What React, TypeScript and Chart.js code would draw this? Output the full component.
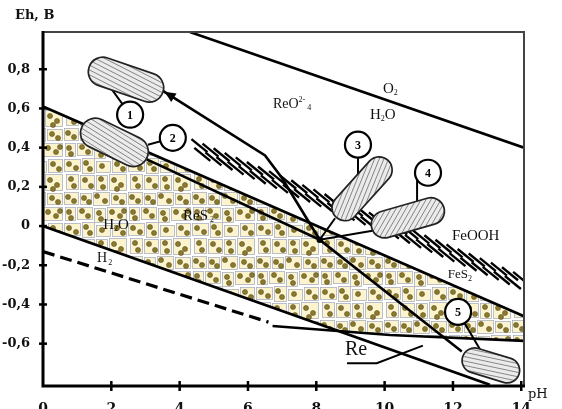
import React, { useEffect, useRef } from "react";
import { Chart, registerables } from "chart.js";

Chart.register(...registerables);

// ---- axes ----
const X_RANGE = [0, 14.08];
const Y_RANGE = [-0.816, 0.99];
const X_TICKS = [0, 2, 4, 6, 8, 10, 12, 14];
const X_TICK_LABELS = ["0", "2", "4", "6", "8", "10", "12", "14"];
const Y_TICKS = [0.8, 0.6, 0.4, 0.2, 0, -0.2, -0.4, -0.6];
const Y_TICK_LABELS = ["0,8", "0,6", "0,4", "0,2", "0", "-0,2", "-0,4", "-0,6"];

// ---- boundary lines (pH, Eh in V) ----
const O2_PH = [4.3, 14.08];
const O2_EH = [0.99, 0.4];
const FEOOH_PH = [0, 14.08];
const FEOOH_EH = [0.61, -0.46];
const RES2_TOP_PH = [3.04, 8.1];
const RES2_TOP_EH = [0.34, -0.07];
const H2O_PH = [0, 13.08];
const H2O_EH = [0, -0.81];
const H2_DASH_PH = [0, 6.6];
const H2_DASH_EH = [-0.13, -0.49];
const RE_LOW_PH = [6.72, 10.16, 14.08];
const RE_LOW_EH = [-0.51, -0.556, -0.586];
const REO4_PH = [3.51, 6.5, 6.99, 8.1, 12.26];
const REO4_EH = [0.69, 0.36, 0.246, -0.07, -0.64];
const RE_X_PH = [8.9, 9.77, 11.12];
const RE_X_EH = [-0.7, -0.7, -0.61];
const LINK3_PH = [8.1, 8.55];
const LINK3_EH = [-0.07, 0.04];
const LINK4_PH = [8.1, 9.77];
const LINK4_EH = [-0.07, -0.02];

// ---- dotted ReS2 / FeS2 field ----
const FIELD_PH = [0, 14.08, 14.08, 10.16, 8.69, 0];
const FIELD_EH = [0.61, -0.46, -0.586, -0.556, -0.538, 0];

// ---- FeOOH hatched band ----
const HATCH_PH = [4.54, 14.05];
const HATCH_EH = [0.394, -0.29];

// ---- numbered sample fields ----
const PILL_NUM = ["1", "2", "3", "4", "5"];
const PILL_PH = [2.43, 2.09, 9.34, 10.68, 13.11];
const PILL_EH = [0.747, 0.427, 0.19, 0.042, -0.711];
const CIRCLE_PH = [2.55, 3.8, 9.22, 11.27, 12.15];
const CIRCLE_EH = [0.568, 0.45, 0.415, 0.272, -0.438];
const LEADER_FROM_PH = [2.55, 3.8, 9.22, 10.95, 12.15];
const LEADER_FROM_EH = [0.568, 0.45, 0.415, 0.236, -0.438];
const LEADER_TO_PH = [2.02, 3.07, 9.22, 10.95, 12.82];
const LEADER_TO_EH = [0.696, 0.415, 0.26, 0.11, -0.637];

// pill shapes (px): length, thickness, angle, hatch angle relative
const PILL_STYLE = [
  { len: 78, thick: 29, ang: 19, hatch: 8 },
  { len: 72, thick: 30, ang: 26, hatch: 6 },
  { len: 77, thick: 26, ang: -48, hatch: -20 },
  { len: 75, thick: 27, ang: -16, hatch: -44 },
  { len: 59, thick: 25, ang: 17, hatch: -5 },
];

// ---- region labels ----
const TEXTS: { ph: number; eh: number; parts: [string, number, number][] }[] = [
  { ph: 6.73, eh: 0.62, parts: [["ReO", 14, 0], ["2-", 8, -5], [" ", 8, 0], ["4", 8, 3]] },
  { ph: 9.95, eh: 0.7, parts: [["O", 15, 0], ["2", 8, 4]] },
  { ph: 9.57, eh: 0.568, parts: [["H", 15, 0], ["2", 8, 4], ["O", 15, 0]] },
  { ph: 11.97, eh: -0.05, parts: [["FeOOH", 15, 0]] },
  { ph: 11.85, eh: -0.249, parts: [["FeS", 13, 0], ["2", 8, 4]] },
  { ph: 1.76, eh: 0.006, parts: [["H", 15, 0], ["2", 8, 4], ["O", 15, 0]] },
  { ph: 4.1, eh: 0.052, parts: [["ReS", 15, 0], [" ", 8, 0], ["2", 8, 4]] },
  { ph: 1.58, eh: -0.167, parts: [["H", 14, 0], [" ", 5, 0], ["2", 8, 4]] },
  { ph: 8.84, eh: -0.632, parts: [["Re", 20, 0], ["'", 10, -6]] },
];

function makeDotPattern(): CanvasPattern | string {
  const S = 64;
  const c = document.createElement("canvas");
  c.width = S;
  c.height = S;
  const g = c.getContext("2d");
  if (!g) return "#f5ecc8";
  g.fillStyle = "#ffffff";
  g.fillRect(0, 0, S, S);
  const cells = [
    [0, 0, 15, 13], [16, 1, 12, 12], [29, 0, 17, 14], [47, 1, 16, 12],
    [1, 15, 11, 14], [13, 15, 16, 13], [30, 16, 12, 15], [43, 15, 20, 14],
    [0, 31, 17, 13], [18, 30, 13, 16], [32, 33, 15, 12], [48, 31, 15, 14],
    [2, 46, 13, 16], [16, 47, 15, 15], [32, 47, 12, 16], [45, 46, 18, 17],
  ];
  g.fillStyle = "#fcf3cf";
  g.strokeStyle = "#a0a8c6";
  g.lineWidth = 0.7;
  for (const [a, b, w, h] of cells) {
    g.fillRect(a, b, w, h);
    g.strokeRect(a + 0.5, b + 0.5, w - 1, h - 1);
  }
  const dots = [
    [4, 5], [10, 9], [20, 6], [25, 10], [33, 4], [41, 9], [52, 6], [58, 10],
    [5, 20], [7, 26], [18, 19], [24, 24], [35, 21], [37, 27], [48, 20], [56, 24], [60, 19],
    [5, 36], [12, 40], [22, 35], [26, 41], [38, 38], [53, 36], [59, 41],
    [7, 51], [10, 58], [21, 52], [27, 58], [37, 51], [39, 59], [50, 52], [57, 57], [53, 61],
  ];
  for (const [dx, dy] of dots) {
    g.beginPath();
    g.arc(dx, dy, 2.5, 0, Math.PI * 2);
    g.fillStyle = "#8b7a2e";
    g.fill();
    g.lineWidth = 0.6;
    g.strokeStyle = "#5d4f1a";
    g.stroke();
  }
  return g.createPattern(c, "repeat") || "#f5ecc8";
}

const SERIF = "'Liberation Serif', 'Times New Roman', serif";
const AXIS_FONT = "'DejaVu Serif', serif";

function pillPath(ctx: CanvasRenderingContext2D, h: number, r: number) {
  ctx.beginPath();
  ctx.moveTo(-h + r, -r);
  ctx.lineTo(h - r, -r);
  ctx.arc(h - r, 0, r, -Math.PI / 2, Math.PI / 2);
  ctx.lineTo(-h + r, r);
  ctx.arc(-h + r, 0, r, Math.PI / 2, (3 * Math.PI) / 2);
  ctx.closePath();
}

const overlay = {
  id: "overlay",
  afterDatasetsDraw(chart: any) {
    const { ctx, chartArea: a } = chart;
    const xs = chart.scales.x;
    const ys = chart.scales.y;
    const X = (v: number) => xs.getPixelForValue(v);
    const Y = (v: number) => ys.getPixelForValue(v);
    ctx.save();
    ctx.beginPath();
    ctx.rect(a.left, a.top, a.right - a.left, a.bottom - a.top);
    ctx.clip();

    // hatch band (FeOOH)
    const hx0 = X(HATCH_PH[0]), hy0 = Y(HATCH_EH[0]);
    const hx1 = X(HATCH_PH[1]), hy1 = Y(HATCH_EH[1]);
    const hl = Math.hypot(hx1 - hx0, hy1 - hy0);
    const ux = (hx1 - hx0) / hl, uy = (hy1 - hy0) / hl;
    const nx = -uy, ny = ux;
    ctx.strokeStyle = "#000";
    ctx.lineWidth = 2.4;
    let k = 0;
    for (let s = 0; s <= hl; s += 6, k++) {
      const off = (k % 2 ? 1 : -1) * 3.5;
      const cx = hx0 + ux * s + nx * off;
      const cy = hy0 + uy * s + ny * off;
      ctx.beginPath();
      ctx.moveTo(cx - 8, cy - 6.5);
      ctx.lineTo(cx + 8, cy + 6.5);
      ctx.stroke();
    }

    // leaders
    ctx.lineWidth = 2;
    for (let i = 0; i < PILL_NUM.length; i++) {
      ctx.beginPath();
      ctx.moveTo(X(LEADER_FROM_PH[i]), Y(LEADER_FROM_EH[i]));
      ctx.lineTo(X(LEADER_TO_PH[i]), Y(LEADER_TO_EH[i]));
      ctx.stroke();
    }

    // pills
    for (let i = 0; i < PILL_NUM.length; i++) {
      const st = PILL_STYLE[i];
      const r = st.thick / 2, h = st.len / 2;
      ctx.save();
      ctx.translate(X(PILL_PH[i]), Y(PILL_EH[i]));
      ctx.rotate((st.ang * Math.PI) / 180);
      pillPath(ctx, h, r);
      ctx.fillStyle = "#ebebeb";
      ctx.fill();
      ctx.save();
      ctx.clip();
      ctx.rotate((st.hatch * Math.PI) / 180);
      ctx.strokeStyle = "#777";
      ctx.lineWidth = 0.8;
      for (let t = -st.len; t <= st.len; t += 4.3) {
        ctx.beginPath();
        ctx.moveTo(-st.len, t);
        ctx.lineTo(st.len, t);
        ctx.stroke();
      }
      ctx.restore();
      pillPath(ctx, h, r);
      ctx.strokeStyle = "#222";
      ctx.lineWidth = 1.7;
      ctx.stroke();
      ctx.restore();
    }

    // number circles
    for (let i = 0; i < PILL_NUM.length; i++) {
      const cx = X(CIRCLE_PH[i]), cy = Y(CIRCLE_EH[i]);
      ctx.beginPath();
      ctx.arc(cx, cy, 13, 0, Math.PI * 2);
      ctx.fillStyle = "#fff";
      ctx.fill();
      ctx.lineWidth = 2.2;
      ctx.strokeStyle = "#000";
      ctx.stroke();
      ctx.fillStyle = "#000";
      ctx.font = `bold 12px ${SERIF}`;
      ctx.textAlign = "center";
      ctx.textBaseline = "middle";
      ctx.fillText(PILL_NUM[i], cx, cy + 1);
    }

    // arrow head
    const tx = X(REO4_PH[0]), ty = Y(REO4_EH[0]);
    const bx = X(REO4_PH[1]), by = Y(REO4_EH[1]);
    const dl = Math.hypot(tx - bx, ty - by);
    const dx = (tx - bx) / dl, dy = (ty - by) / dl;
    ctx.beginPath();
    ctx.moveTo(tx - dx * 2, ty - dy * 2);
    ctx.lineTo(tx - dx * 13 - dy * 5, ty - dy * 13 + dx * 5);
    ctx.lineTo(tx - dx * 13 + dy * 5, ty - dy * 13 - dx * 5);
    ctx.closePath();
    ctx.fillStyle = "#000";
    ctx.fill();

    // intersection dot
    ctx.beginPath();
    ctx.arc(X(REO4_PH[3]), Y(REO4_EH[3]), 3.2, 0, Math.PI * 2);
    ctx.fill();

    // labels
    ctx.textAlign = "left";
    ctx.textBaseline = "middle";
    ctx.fillStyle = "#111";
    for (const t of TEXTS) {
      let cx = X(t.ph);
      const cy = Y(t.eh);
      for (const [s, size, off] of t.parts) {
        ctx.font = `${size}px ${SERIF}`;
        ctx.fillText(s, cx, cy + off);
        cx += ctx.measureText(s).width;
      }
    }
    ctx.restore();
  },
  afterDraw(chart: any) {
    const { ctx, chartArea: a } = chart;
    const xs = chart.scales.x;
    const ys = chart.scales.y;
    ctx.save();
    // frame
    ctx.strokeStyle = "#444";
    ctx.lineWidth = 2;
    ctx.beginPath();
    ctx.moveTo(a.left, a.top);
    ctx.lineTo(a.right, a.top);
    ctx.lineTo(a.right, a.bottom);
    ctx.stroke();
    ctx.strokeStyle = "#000";
    ctx.lineWidth = 3;
    ctx.beginPath();
    ctx.moveTo(a.left, a.top - 1);
    ctx.lineTo(a.left, a.bottom);
    ctx.lineTo(a.right + 1, a.bottom);
    ctx.stroke();
    // tick marks
    ctx.lineWidth = 2.5;
    for (const v of X_TICKS) {
      const px = xs.getPixelForValue(v);
      if (v === 0) continue;
      ctx.beginPath();
      ctx.moveTo(px, a.bottom - 5);
      ctx.lineTo(px, a.bottom + 5);
      ctx.stroke();
    }
    for (const v of Y_TICKS) {
      const py = ys.getPixelForValue(v);
      ctx.beginPath();
      ctx.moveTo(a.left - 4, py);
      ctx.lineTo(a.left + 4, py);
      ctx.stroke();
    }
    // axis titles
    ctx.fillStyle = "#111";
    ctx.textBaseline = "middle";
    ctx.textAlign = "left";
    ctx.font = `bold 13px ${AXIS_FONT}`;
    ctx.fillText("Eh, B", a.left - 28, a.top - 16);
    ctx.font = `13px ${AXIS_FONT}`;
    ctx.fillText("pH", a.right + 4, a.bottom + 9);
    ctx.restore();
  },
};

export default function App() {
  const ref = useRef<HTMLCanvasElement>(null);
  useEffect(() => {
    const canvas = ref.current;
    if (!canvas) return;
    const pattern = makeDotPattern();
    const pts = (ph: number[], eh: number[]) => ph.map((x, i) => ({ x, y: eh[i] }));
    const line = (ph: number[], eh: number[], extra: any = {}) => ({
      data: pts(ph, eh),
      borderColor: "#000",
      borderWidth: 2.6,
      pointRadius: 0,
      fill: false,
      tension: 0,
      ...extra,
    });
    const datasets = [
      line(FIELD_PH, FIELD_EH, {
        fill: "shape",
        backgroundColor: pattern,
        borderColor: "rgba(0,0,0,0)",
        borderWidth: 1,
        order: 10,
      }),
      line(O2_PH, O2_EH),
      line(FEOOH_PH, FEOOH_EH),
      line(RES2_TOP_PH, RES2_TOP_EH),
      line(H2O_PH, H2O_EH),
      line(H2_DASH_PH, H2_DASH_EH, { borderDash: [12, 6], borderWidth: 3.2 }),
      line(RE_LOW_PH, RE_LOW_EH),
      line(REO4_PH, REO4_EH),
      line(RE_X_PH, RE_X_EH, { borderWidth: 2 }),
      line(LINK3_PH, LINK3_EH, { borderWidth: 2 }),
      line(LINK4_PH, LINK4_EH, { borderWidth: 2 }),
    ];
    const chart = new Chart(canvas, {
      type: "line",
      data: { datasets } as any,
      options: {
        animation: false,
        responsive: false,
        devicePixelRatio: 1,
        events: [],
        layout: { padding: { left: 0, top: 32, right: 38, bottom: 0 } },
        plugins: {
          legend: { display: false },
          tooltip: { enabled: false },
          filler: { drawTime: "beforeDatasetsDraw" },
        } as any,
        scales: {
          x: {
            type: "linear",
            min: X_RANGE[0],
            max: X_RANGE[1],
            grid: { display: false },
            border: { display: false },
            afterBuildTicks: (s: any) => {
              s.ticks = X_TICKS.map((v) => ({ value: v }));
            },
            afterFit: (s: any) => {
              s.height = 23;
            },
            ticks: {
              autoSkip: false,
              maxRotation: 0,
              padding: 7,
              color: "#111",
              font: { family: "'DejaVu Serif', serif", size: 14, weight: "bold" },
              callback: (_v: any, i: number) => X_TICK_LABELS[i],
            },
          },
          y: {
            type: "linear",
            min: Y_RANGE[0],
            max: Y_RANGE[1],
            grid: { display: false },
            border: { display: false },
            afterBuildTicks: (s: any) => {
              s.ticks = Y_TICKS.map((v) => ({ value: v }));
            },
            afterFit: (s: any) => {
              s.width = 43;
            },
            ticks: {
              autoSkip: false,
              padding: 5,
              color: "#111",
              font: { family: "'DejaVu Serif', serif", size: 13, weight: "bold" },
              callback: (_v: any, i: number) => Y_TICK_LABELS[i],
            },
          },
        } as any,
      },
      plugins: [overlay],
    });
    return () => chart.destroy();
  }, []);
  return (
    <div style={{ position: "fixed", left: 0, top: 0, width: 562, height: 409, background: "#fff" }}>
      <canvas ref={ref} width={562} height={409} style={{ display: "block", width: 562, height: 409 }} />
    </div>
  );
}
